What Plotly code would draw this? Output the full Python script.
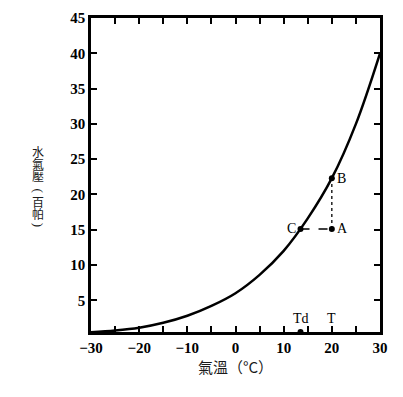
import plotly.graph_objects as go

temp = [-30, -25, -20, -15, -10, -5, 0, 5, 10, 15, 20, 25, 30]
vapor = [0.45, 0.7, 1.1, 1.8, 2.8, 4.2, 6.0, 8.6, 12.0, 16.6, 22.3, 30.0, 40.0]

pt_labels = ["A", "B", "C"]
pt_x = [20, 20, 13.5]
pt_y = [15.1, 22.3, 15.1]

td_x = 13.5
t_x = 20

x_tickvals = [-30, -25, -20, -15, -10, -5, 0, 5, 10, 15, 20, 25, 30]
x_ticktext = ["−30", "", "−20", "", "−10", "", "0", "", "10", "", "20", "", "30"]
y_tickvals = [5, 10, 15, 20, 25, 30, 35, 40, 45]
y_ticktext = ["5", "10", "15", "20", "25", "30", "35", "40", "45"]

# vertical y-axis title characters (char, rotation)
ytitle_chars = [("水", 0), ("氣", 0), ("壓", 0), ("(", 90), ("百", 0), ("帕", 0), (")", 90)]
ytitle_py = [147, 159, 171, 187, 198, 210, 222]

SERIF = "Liberation Serif"
CJK = "Noto Sans CJK TC"
L, R, T, B = 91, 23, 10, 65
W, H = 403, 397
PW, PH = W - L - R, H - T - B

fig = go.Figure()
fig.add_trace(go.Scatter(x=temp, y=vapor, mode="lines", line=dict(color="black", width=2.5, shape="spline"),
                         hoverinfo="skip", showlegend=False))
fig.add_trace(go.Scatter(x=[pt_x[2], pt_x[0]], y=[pt_y[2], pt_y[0]], mode="lines",
                         line=dict(color="black", width=1.3, dash="dash"), showlegend=False))
fig.add_trace(go.Scatter(x=[pt_x[0], pt_x[1]], y=[pt_y[0], pt_y[1]], mode="lines",
                         line=dict(color="black", width=1.3, dash="dot"), showlegend=False))
fig.add_trace(go.Scatter(x=pt_x, y=pt_y, mode="markers", marker=dict(color="black", size=6),
                         showlegend=False))
fig.add_trace(go.Scatter(x=[td_x], y=[0.5], mode="markers", marker=dict(color="black", size=6),
                         showlegend=False, cliponaxis=False))

for lab, x, y in zip(pt_labels, pt_x, pt_y):
    fig.add_annotation(x=x, y=y, text=lab, showarrow=False, xanchor="right" if lab == "C" else "left",
                       xshift=-3 if lab == "C" else 3, font=dict(family=SERIF, size=14, color="black"))
fig.add_annotation(x=td_x, y=2.4, text="Td", showarrow=False, font=dict(family=SERIF, size=14, color="black"))
fig.add_annotation(x=t_x, y=2.4, text="T", showarrow=False, font=dict(family=SERIF, size=14, color="black"))

for (ch, rot), py in zip(ytitle_chars, ytitle_py):
    fig.add_annotation(xref="paper", yref="paper", x=(38 - L) / PW, y=(T + PH - py) / PH,
                       xanchor="center", yanchor="middle", borderpad=0,
                       text=ch, textangle=rot, showarrow=False,
                       font=dict(family=SERIF if rot else CJK, size=13 if rot else 12, color="#1a1a1a"))

fig.update_xaxes(range=[-30, 30], tickvals=x_tickvals, ticktext=x_ticktext, ticks="inside", ticklen=6,
                 tickwidth=1.8, tickcolor="black", showline=True, linewidth=2.5, linecolor="black",
                 mirror="ticks", showgrid=False, zeroline=False,
                 tickfont=dict(family=SERIF, size=15, color="black", weight="bold"),
                 title=dict(text="氣溫（°C）", font=dict(family=CJK, size=15, color="#1a1a1a"),
                            standoff=8))
fig.update_yaxes(range=[0.5, 45], tickvals=y_tickvals, ticktext=y_ticktext, ticks="inside", ticklen=6,
                 tickwidth=1.8, tickcolor="black", showline=True, linewidth=2.5, linecolor="black",
                 mirror="ticks", showgrid=False, zeroline=False,
                 tickfont=dict(family=SERIF, size=15, color="black", weight="bold"))
fig.update_layout(width=W, height=H, margin=dict(l=L, r=R, t=T, b=B),
                  plot_bgcolor="white", paper_bgcolor="white")
fig.write_html("out.html")
